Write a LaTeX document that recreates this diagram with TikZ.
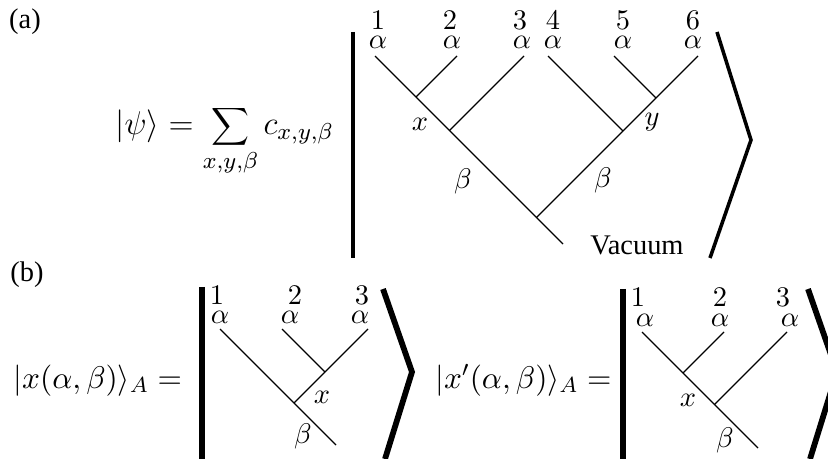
\documentclass[tikz,border=0pt]{standalone}
\usepackage{fix-cm}
\usepackage[no-math]{fontspec}
\setmainfont{Liberation Serif}

\begin{document}
\begin{tikzpicture}[x=0.38pt,y=-0.38pt,
  wire/.style={line width=0.5pt},
  bar/.style={line width=1.35pt},
  fatbar/.style={line width=2.2pt},
  lab/.style={inner sep=0pt, font=\fontsize{10.8}{12}\selectfont},
  txt/.style={inner sep=0pt, font=\fontsize{10.8}{12}\selectfont}]
\useasboundingbox (0,0) rectangle (828,459);
\clip (0,0) rectangle (828,459);

% (a) six-leg fusion tree
\node[txt] (tag-a) at (25,22) {(a)};
\node[anchor=base west, inner sep=0pt, font=\fontsize{12.5}{15}\selectfont] (psi) at (115,135)
  {$\displaystyle |\psi\rangle = \sum_{x,y,\beta} c_{x,y,\beta}$};
\coordinate (ba-top) at (353,32);
\coordinate (ba-bot) at (353,258);
\draw[bar] (ba-top) -- (ba-bot);
\coordinate (ka-top) at (717,32);
\coordinate (ka-tip) at (751,140);
\coordinate (ka-bot) at (710,258);
\draw[bar] (ka-top) -- (ka-tip) -- (ka-bot);

\coordinate (a1) at (375,56);
\coordinate (a2) at (457,56);
\coordinate (a3) at (524,56);
\coordinate (a4) at (548,56);
\coordinate (a5) at (614,56);
\coordinate (a6) at (698,56);
\coordinate (jx) at (416,97);
\coordinate (j3) at (449.5,130.5);
\coordinate (jy) at (656,98);
\coordinate (j4) at (623,131);
\coordinate (root) at (536.5,217.5);
\coordinate (vac) at (563,244);
\draw[wire] (a1) -- (jx) -- (j3) -- (root) -- (vac);
\draw[wire] (a2) -- (jx);
\draw[wire] (a3) -- (j3);
\draw[wire] (a4) -- (j4);
\draw[wire] (a5) -- (jy);
\draw[wire] (a6) -- (jy) -- (j4) -- (root);

\node[lab] (na1) at (378,20) {$1$};
\node[lab] (na2) at (450,20) {$2$};
\node[lab] (na3) at (520,20) {$3$};
\node[lab] (na4) at (553,20) {$4$};
\node[lab] (na5) at (623,20) {$5$};
\node[lab] (na6) at (693,20) {$6$};
\node[lab] (al1) at (378,42) {$\alpha$};
\node[lab] (al2) at (452,42) {$\alpha$};
\node[lab] (al3) at (522,42) {$\alpha$};
\node[lab] (al4) at (553,42) {$\alpha$};
\node[lab] (al5) at (623,42) {$\alpha$};
\node[lab] (al6) at (693,42) {$\alpha$};
\node[lab] (lx) at (420,124) {$x$};
\node[lab] (ly) at (652,122) {$y$};
\node[lab] (lb1) at (463,181) {$\beta$};
\node[lab] (lb2) at (603,180) {$\beta$};
\node[txt] (vacuum) at (637,245) {Vacuum};

% (b) three-leg trees
\node[txt] (tag-b) at (27,275) {(b)};
\node[anchor=base west, inner sep=0pt, font=\fontsize{11.9}{14}\selectfont] (xa) at (13,388)
  {$|x(\alpha,\beta)\rangle_A =$};
\coordinate (bb-top) at (202,287);
\coordinate (bb-bot) at (202,459);
\draw[fatbar] (bb-top) -- (bb-bot);
\coordinate (kb-top) at (383,289);
\coordinate (kb-tip) at (412,372);
\coordinate (kb-bot) at (385,459);
\draw[fatbar] (kb-top) -- (kb-tip) -- (kb-bot);

\coordinate (b1) at (220,329);
\coordinate (b2) at (282,329);
\coordinate (b3) at (368,329);
\coordinate (jb) at (325,372);
\coordinate (kb) at (294,403);
\coordinate (eb) at (336,445);
\draw[wire] (b1) -- (kb) -- (eb);
\draw[wire] (b2) -- (jb);
\draw[wire] (b3) -- (jb) -- (kb);
\node[lab] (nb1) at (217,295) {$1$};
\node[lab] (nb2) at (295,295) {$2$};
\node[lab] (nb3) at (362,295) {$3$};
\node[lab] (bl1) at (220,317) {$\alpha$};
\node[lab] (bl2) at (290,317) {$\alpha$};
\node[lab] (bl3) at (360,317) {$\alpha$};
\node[lab] (bx) at (322,397) {$x$};
\node[lab] (bbeta) at (303,436) {$\beta$};

\node[anchor=base west, inner sep=0pt, font=\fontsize{11.9}{14}\selectfont] (xb) at (435,388)
  {$|x'(\alpha,\beta)\rangle_A =$};
\coordinate (bc-top) at (623,289);
\coordinate (bc-bot) at (623,459);
\draw[fatbar] (bc-top) -- (bc-bot);
\coordinate (kc-top) at (808,289);
\coordinate (kc-tip) at (837,372);
\coordinate (kc-bot) at (810,459);
\draw[fatbar] (kc-top) -- (kc-tip) -- (kc-bot);

\coordinate (c1) at (642,332);
\coordinate (c2) at (724,332);
\coordinate (c3) at (787,332);
\coordinate (jc) at (683,373);
\coordinate (kc) at (714.5,404.5);
\coordinate (ec) at (758,448);
\draw[wire] (c1) -- (jc) -- (kc) -- (ec);
\draw[wire] (c2) -- (jc);
\draw[wire] (c3) -- (kc);
\node[lab] (nc1) at (638,297) {$1$};
\node[lab] (nc2) at (720,297) {$2$};
\node[lab] (nc3) at (783,297) {$3$};
\node[lab] (cl1) at (645,320) {$\alpha$};
\node[lab] (cl2) at (720,320) {$\alpha$};
\node[lab] (cl3) at (790,320) {$\alpha$};
\node[lab] (cx) at (688,400) {$x$};
\node[lab] (cbeta) at (725,440) {$\beta$};
\end{tikzpicture}
\end{document}
